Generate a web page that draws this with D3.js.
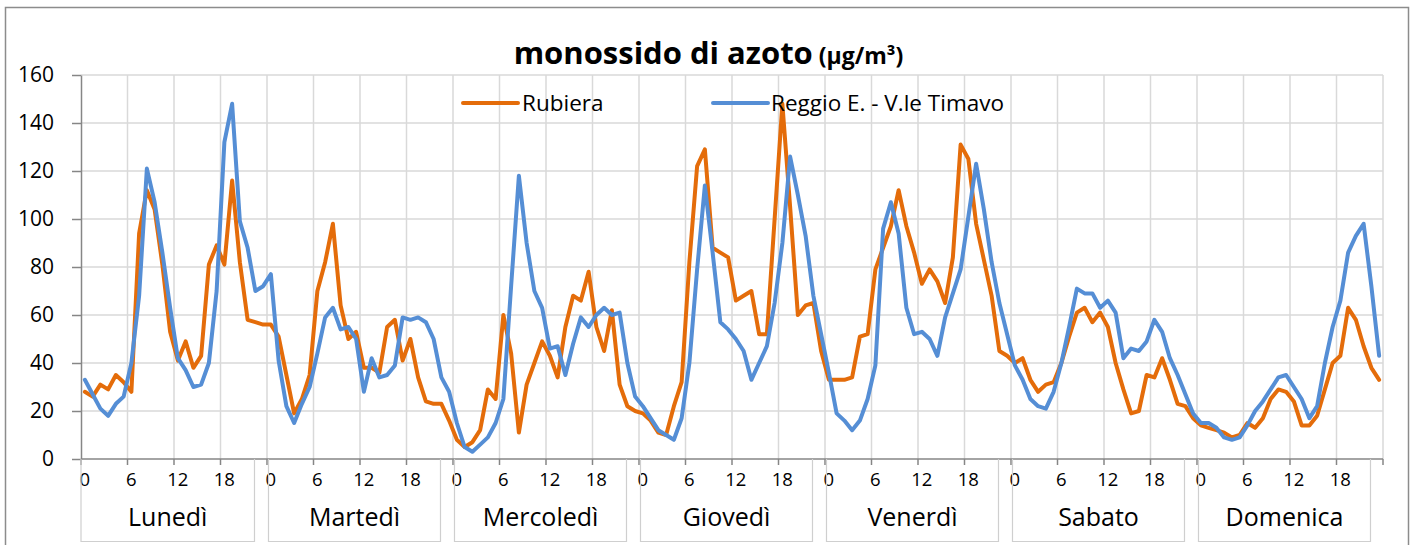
<!DOCTYPE html>
<html><head><meta charset="utf-8">
<script src="https://cdn.jsdelivr.net/npm/d3@7"></script>
<style>body{margin:0;background:#fff}svg{display:block}text{font-family:'Open Sans',sans-serif;fill:#000}</style>
</head><body><svg id="c" width="1412" height="545"></svg>
<script>
const days = ["Lunedì","Martedì","Mercoledì","Giovedì","Venerdì","Sabato","Domenica"];
const hourLabels = [0,6,12,18];
const yTicks = [0,20,40,60,80,100,120,140,160];
const seriesNames = ["Rubiera","Reggio E. - V.le Timavo"];
const titleMain = "monossido di azoto";
const titleUnit = "(μg/m³)";
const rubiera = [
 28,26,31,29,35,32,28,94,112,104,81,53,41,49,38,43,81,89,81,116,82,58,57,56,
 56,51,35,19,25,35,70,82,98,64,50,53,38,38,36,55,58,41,50,34,24,23,23,16,
 8,5,7,12,29,25,60,44,11,31,40,49,43,34,55,68,66,78,55,45,62,31,22,20,
 19,16,11,10,22,32,82,122,129,88,86,84,66,68,70,52,52,100,148,105,60,64,65,45,
 33,33,33,34,51,52,79,88,97,112,97,86,73,79,74,65,84,131,125,98,83,68,45,43,
 40,42,33,28,31,32,40,51,61,63,57,61,55,40,29,19,20,35,34,42,33,23,22,17,
 14,13,12,11,9,10,15,13,17,25,29,28,24,14,14,18,29,40,43,63,58,47,38,33
];
const reggio = [
 33,27,21,18,23,26,40,68,121,107,86,63,42,37,30,31,40,70,132,148,99,88,70,72,
 77,41,22,15,23,30,44,59,63,54,55,50,28,42,34,35,39,59,58,59,57,50,34,28,
 15,5,3,6,9,15,25,72,118,90,70,63,46,47,35,48,59,55,60,63,60,61,40,26,
 22,17,12,10,8,17,40,79,114,86,57,54,50,45,33,40,47,65,90,126,110,93,68,52,
 36,19,16,12,16,25,39,96,107,94,63,52,53,50,43,59,69,79,101,123,104,82,65,52,
 39,33,25,22,21,28,40,55,71,69,69,63,66,61,42,46,45,49,58,53,42,35,27,19,
 15,15,13,9,8,9,14,20,24,29,34,35,30,25,17,22,40,55,66,86,93,98,72,43
];
const colors = ["#E46C0A","#558ED5"];

const svg = d3.select("#c");
const m = {left:81, right:1383, top:75, bottom:459};
const nH = 24;
const idx = d3.range(days.length*nH);
const x = d3.scaleBand().domain(idx).range([m.left, m.right]).padding(0);
const xc = i => x(i) + x.bandwidth()/2;
const y = d3.scaleLinear().domain([0,160]).range([m.bottom, m.top]);
const dayW = x.bandwidth()*nH;

svg.append("rect").attr("width",1412).attr("height",545).attr("fill","#fff");
// outer border
svg.append("rect").attr("x",5.5).attr("y",7.5).attr("width",1403).attr("height",560)
  .attr("fill","none").attr("stroke","#8c8c8c").attr("stroke-width",1.5);

// horizontal gridlines
svg.append("g").selectAll("line").data(yTicks.filter(v=>v>0)).join("line")
  .attr("x1",m.left).attr("x2",m.right).attr("y1",d=>y(d)).attr("y2",d=>y(d))
  .attr("stroke","#d9d9d9").attr("stroke-width",1.5);
// vertical gridlines every 6 hours
const vg = idx.filter(i=>i%6===0 && i>0).map(i=>x(i)).concat([m.right]);
svg.append("g").selectAll("line").data(vg).join("line")
  .attr("x1",d=>d).attr("x2",d=>d).attr("y1",m.top).attr("y2",m.bottom)
  .attr("stroke","#d9d9d9").attr("stroke-width",1.5);

// y axis
const ya = svg.append("g").attr("transform",`translate(${m.left},0)`)
  .call(d3.axisLeft(y).tickValues(yTicks).tickSize(9).tickSizeOuter(0).tickPadding(18));
ya.selectAll("path,line").attr("stroke","#868686").attr("stroke-width",1.5);
ya.selectAll("text").attr("font-size",21).attr("font-family","'Open Sans',sans-serif").attr("fill","#000");

// bottom axis line + ticks
svg.append("line").attr("x1",m.left).attr("x2",m.right).attr("y1",m.bottom).attr("y2",m.bottom)
  .attr("stroke","#868686").attr("stroke-width",1.5);
const bt = idx.filter(i=>i%6===0).map(i=>x(i)).concat([m.right]);
svg.append("g").selectAll("line").data(bt).join("line")
  .attr("x1",d=>d).attr("x2",d=>d).attr("y1",m.bottom).attr("y2",m.bottom+6)
  .attr("stroke","#868686").attr("stroke-width",1.5);
// hour labels
svg.append("g").selectAll("text").data(idx.filter(i=>hourLabels.includes(i%nH))).join("text")
  .attr("x",d=>xc(d)).attr("y",486).attr("text-anchor","middle").attr("font-size",18.5)
  .text(d=>d%nH);
// day boxes
const dg = svg.append("g");
days.forEach((dname,d)=>{
  const x0 = x(d*nH) + (d===0?0:1.5), x1 = x(d*nH) + dayW - 12.5;
  dg.append("path").attr("d",`M${x0},${m.bottom}V541.5H${x1}V${m.bottom}`)
    .attr("fill","none").attr("stroke","#cfcfcf").attr("stroke-width",1.2);
  dg.append("text").attr("x",(x0+x1)/2).attr("y",526).attr("text-anchor","middle")
    .attr("font-size",25).text(dname);
});

// series lines
const line = d3.line().x((d,i)=>xc(i)).y(d=>y(d));
[rubiera, reggio].forEach((s,k)=>{
  svg.append("path").datum(s).attr("d",line).attr("fill","none")
    .attr("stroke",colors[k]).attr("stroke-width",4)
    .attr("stroke-linejoin","round").attr("stroke-linecap","round");
});

// legend
const leg = [{x:463, tx:522},{x:713, tx:771}];
seriesNames.forEach((n,k)=>{
  svg.append("line").attr("x1",leg[k].x).attr("x2",leg[k].x+55).attr("y1",103).attr("y2",103)
    .attr("stroke",colors[k]).attr("stroke-width",4).attr("stroke-linecap","round");
  svg.append("text").attr("x",leg[k].tx).attr("y",111).attr("font-size",22.5).text(n);
});

// title
const t = svg.append("text").attr("x",708.5).attr("y",64).attr("text-anchor","middle")
  .attr("font-weight","bold");
t.append("tspan").attr("font-size",31).text(titleMain);
t.append("tspan").attr("font-size",23).text(" " + titleUnit);
</script></body></html>
